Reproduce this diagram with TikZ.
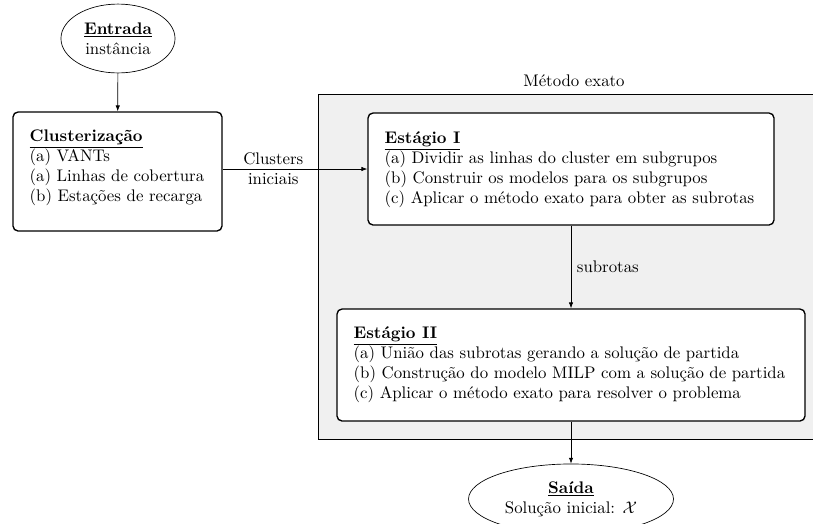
\documentclass[tikz,border=0pt]{standalone}
\usepackage{fontspec}
\usetikzlibrary{shapes.geometric,fit,calc,arrows.meta}
\begin{document}
\begin{tikzpicture}[x=0.5952pt,y=-0.5952pt,
  stepbox/.style={draw,thick,rounded corners=3pt,fill=white,inner sep=0pt},
  terminal/.style={draw,ellipse,fill=white,inner sep=0pt,align=center},
  itemlist/.style={anchor=north west,align=left,inner sep=0pt},
  flow/.style={-{Latex[length=3.5pt,width=2.6pt]}},
  region/.style={draw,fill=black!6,inner sep=0pt}]
\useasboundingbox (0,0) rectangle (813,523);

% exact-method region
\node[region, fit={(318,94.5) (830,439)}] (exato) {};
\node[above=1pt] at (exato.north) {Método exato};

% input and output
\node[terminal, minimum width=67.9pt, minimum height=41pt] (entrada) at (118,38.5)
  {\underline{\textbf{Entrada}}\\instância};
\node[terminal, minimum width=122pt, minimum height=41.7pt] (saida) at (571,499)
  {\underline{\textbf{Saída}}\\Solução inicial: $\mathcal{X}$};

% clustering step
\node[stepbox, fit={(13,112) (222,231)}] (clus) {};
\node[itemlist] at ($(clus.north west)+(17,18)$)
  {\underline{\textbf{Clusterização}}\\(a) VANTs\\(a) Linhas de cobertura\\(b) Estações de recarga};

% stage I
\node[stepbox, fit={(368,113) (774,225)}] (st1) {};
\node[itemlist] at ($(st1.north west)+(17,19)$)
  {\underline{\textbf{Estágio I}}\\(a) Dividir as linhas do cluster em subgrupos\\(b) Construir os modelos para os subgrupos\\(c) Aplicar o método exato para obter as subrotas};

% stage II
\node[stepbox, fit={(337,309) (805,421)}] (st2) {};
\node[itemlist] at ($(st2.north west)+(17,18)$)
  {\underline{\textbf{Estágio II}}\\(a) União das subrotas gerando a solução de partida\\(b) Construção do modelo MILP com a solução de partida\\(c) Aplicar o método exato para resolver o problema};

% connectors
\draw[flow] (entrada) -- (clus);
\draw[flow] (clus.east |- st1.west) -- node[pos=0.35, align=center] {Clusters\\iniciais} (st1.west);
\draw[flow] (st1) -- node[right] {subrotas} (st2);
\draw[flow] (st2) -- (saida);
\end{tikzpicture}
\end{document}
